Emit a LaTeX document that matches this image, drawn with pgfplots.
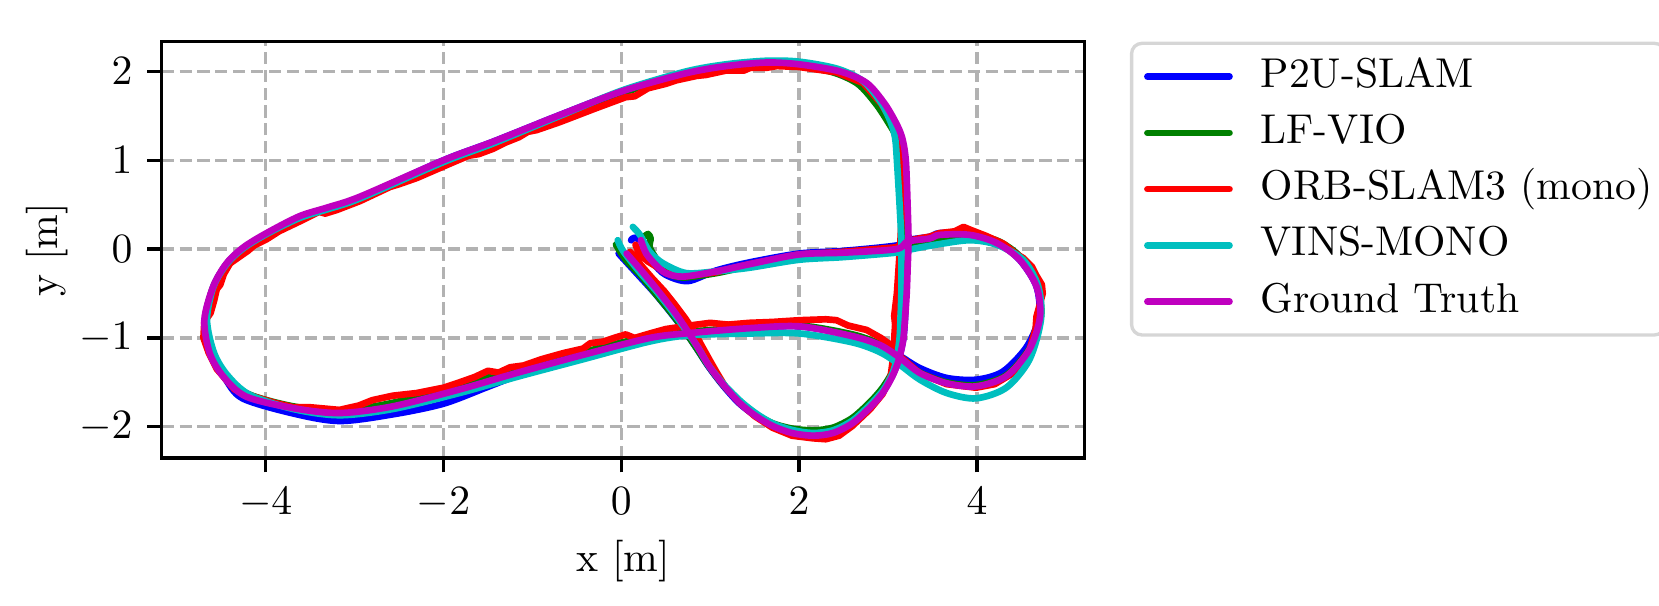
\documentclass[border=0pt]{standalone}
\usepackage{pgfplots}
\pgfplotsset{compat=1.18}
\definecolor{mplb}{rgb}{0,0,1}
\definecolor{mplg}{rgb}{0,0.5,0}
\definecolor{mplr}{rgb}{1,0,0}
\definecolor{mplc}{rgb}{0,0.75,0.75}
\definecolor{mplm}{rgb}{0.75,0,0.75}
\definecolor{legframe}{rgb}{0.84,0.84,0.84}
\begin{document}
\begin{tikzpicture}
\path[use as bounding box] (-38.8pt,-35.5pt) rectangle (359.4pt,109.9pt);
\begin{axis}[
at={(0,0)}, anchor=south west,
scale only axis,
width=221.5pt, height=99.9pt,
xmin=-5.17, xmax=5.21,
ymin=-2.35, ymax=2.335,
xtick={-4,-2,0,2,4},
ytick={-2,-1,0,1,2},
xtick pos=bottom, ytick pos=left,
tick align=outside,
major tick length=3.5pt,
every tick/.style={black, line width=0.8pt},
axis line style={line width=0.8pt},
grid=major,
major grid style={line width=0.8pt, color=gray!60, dash pattern=on 2.9pt off 1.4pt},
xlabel={x [m]},
ylabel={y [m]},
xlabel style={at={(axis description cs:0.5,-0.247)}, anchor=center},
ylabel style={at={(axis description cs:-0.124,0.5)}, anchor=center},
legend cell align=left,
legend image code/.code={\draw[#1] (0pt,0pt) -- (19.7pt,0pt);},
legend style={at={(1,1)}, anchor=north west, xshift=10.9pt,
  draw=legframe, line width=0.8pt, rounded corners=2.5pt,
  inner xsep=3pt, inner ysep=3.5pt, row sep=4.5pt, column sep=6.7pt,
  nodes={inner sep=0pt, text height=7pt, text depth=2pt}},
every axis plot/.append style={line width=1.6pt, line join=round, line cap=round},
]
% P2U-SLAM
\addplot[mplb, smooth, tension=0.5] coordinates {
(-0.03,-0.05) (0.18,-0.28) (0.38,-0.50) (0.56,-0.72) (0.72,-0.93) (0.85,-1.12)
(0.98,-1.32) (1.14,-1.53) (1.32,-1.73) (1.50,-1.87) (1.70,-1.99) (1.92,-2.07)
(2.16,-2.09) (2.38,-2.06) (2.60,-1.95) (2.80,-1.77) (2.94,-1.61) (3.05,-1.42)
(3.12,-1.24) (3.17,-1.02) (3.19,-0.80) (3.20,-0.50) (3.21,-0.23) (3.22,0.10)
(3.21,0.50) (3.19,1.00) (3.14,1.25) (3.06,1.43) (2.92,1.65) (2.72,1.87)
(2.43,2.00) (2.00,2.07) (1.63,2.09) (1.18,2.06) (0.73,1.98) (0.02,1.78)
(-0.69,1.51) (-1.44,1.21) (-2.00,1.00) (-2.94,0.58) (-3.30,0.46) (-3.62,0.36)
(-3.99,0.17) (-4.25,0.01) (-4.44,-0.17) (-4.59,-0.43) (-4.68,-0.80) (-4.62,-1.17)
(-4.46,-1.45) (-4.26,-1.68) (-3.69,-1.85) (-3.17,-1.935) (-2.57,-1.86) (-2.00,-1.74)
(-1.50,-1.55) (-1.18,-1.43) (-0.43,-1.20) (0.32,-1.00) (0.77,-0.945) (1.44,-0.89)
(2.01,-0.87) (2.60,-0.97) (2.91,-1.07) (3.13,-1.20) (3.36,-1.34) (3.66,-1.45)
(3.99,-1.47) (4.29,-1.38) (4.56,-1.10) (4.70,-0.76) (4.67,-0.42) (4.48,-0.12)
(4.22,0.08) (3.92,0.18) (3.58,0.18) (3.47,0.14) (3.22,0.10) (3.09,0.04)
(2.50,-0.02) (2.00,-0.05) (1.44,-0.15) (1.07,-0.24) (0.75,-0.36) (0.50,-0.29)
(0.36,-0.16) (0.26,-0.02) (0.25,0.07) (0.15,0.13) (0.11,0.10)
};
\addlegendentry{P2U-SLAM}
% LF-VIO
\addplot[mplg, smooth, tension=0.5] coordinates {
(-0.06,0.05) (0.05,-0.12) (0.22,-0.30) (0.40,-0.52) (0.58,-0.74) (0.72,-0.93)
(0.85,-1.12) (0.97,-1.30) (1.13,-1.51) (1.32,-1.71) (1.50,-1.85) (1.70,-1.96)
(1.92,-2.02) (2.16,-2.04) (2.38,-2.01) (2.60,-1.90) (2.80,-1.72) (2.94,-1.56)
(3.05,-1.38) (3.11,-1.20) (3.15,-1.00) (3.17,-0.80) (3.18,-0.50) (3.19,-0.23)
(3.19,0.10) (3.18,0.50) (3.16,1.00) (3.10,1.25) (3.00,1.43) (2.86,1.64)
(2.66,1.86) (2.38,1.99) (2.00,2.06) (1.63,2.08) (1.18,2.05) (0.73,1.97)
(0.02,1.76) (-0.69,1.49) (-1.44,1.19) (-2.00,0.98) (-2.94,0.57) (-3.30,0.45)
(-3.62,0.35) (-3.99,0.16) (-4.25,0.00) (-4.44,-0.17) (-4.59,-0.43) (-4.68,-0.80)
(-4.61,-1.17) (-4.46,-1.42) (-4.20,-1.63) (-3.69,-1.77) (-3.17,-1.82) (-2.57,-1.73)
(-1.82,-1.53) (-1.18,-1.35) (-0.43,-1.16) (0.32,-0.98) (0.77,-0.93) (1.44,-0.88)
(2.01,-0.86) (2.60,-0.96) (2.91,-1.07) (3.13,-1.21) (3.36,-1.39) (3.66,-1.50)
(3.99,-1.53) (4.33,-1.42) (4.59,-1.12) (4.72,-0.76) (4.68,-0.42) (4.50,-0.10)
(4.24,0.09) (3.92,0.16) (3.58,0.12) (3.47,0.08) (3.22,0.05) (3.09,-0.02)
(2.50,-0.07) (2.00,-0.09) (1.44,-0.19) (1.07,-0.27) (0.69,-0.32) (0.50,-0.26)
(0.40,-0.12) (0.32,0.02) (0.33,0.12) (0.30,0.17) (0.26,0.14)
};
\addlegendentry{LF-VIO}
% ORB-SLAM3 (mono)
\addplot[mplr] coordinates {
(0.10,-0.03) (0.22,-0.18) (0.35,-0.33) (0.48,-0.47) (0.60,-0.62) (0.72,-0.78)
(0.82,-0.93) (0.90,-1.08) (1.00,-1.26) (1.08,-1.40) (1.17,-1.55) (1.33,-1.73)
(1.50,-1.88) (1.70,-2.01) (1.92,-2.10) (2.16,-2.13) (2.30,-2.14) (2.45,-2.10)
(2.60,-1.99) (2.80,-1.80) (2.94,-1.63) (3.03,-1.43) (3.06,-1.20) (3.07,-1.00)
(3.08,-0.85) (3.07,-0.75) (3.10,-0.50) (3.12,-0.20) (3.14,0.10) (3.16,0.50)
(3.17,1.00) (3.13,1.25) (3.05,1.43) (2.92,1.64) (2.72,1.87) (2.42,1.99)
(2.00,2.05) (1.75,2.06) (1.63,2.04) (1.45,2.04) (1.38,2.01) (1.18,2.01)
(0.95,1.96) (0.85,1.95) (0.62,1.90) (0.50,1.86) (0.30,1.81) (0.15,1.72)
(0.05,1.71) (-0.30,1.58) (-0.69,1.43) (-0.95,1.34) (-1.05,1.32) (-1.15,1.26)
(-1.30,1.20) (-1.44,1.13) (-1.60,1.07) (-1.72,1.05) (-2.00,0.93) (-2.30,0.80)
(-2.50,0.73) (-2.60,0.70) (-2.94,0.54) (-3.20,0.44) (-3.33,0.40) (-3.40,0.42)
(-3.62,0.31) (-3.85,0.20) (-3.99,0.11) (-4.13,0.04) (-4.20,-0.02) (-4.30,-0.09)
(-4.40,-0.16) (-4.47,-0.28) (-4.51,-0.40) (-4.55,-0.45) (-4.58,-0.58) (-4.62,-0.72)
(-4.69,-0.82) (-4.70,-1.00) (-4.64,-1.17) (-4.55,-1.35) (-4.35,-1.58) (-4.20,-1.64)
(-3.90,-1.73) (-3.69,-1.78) (-3.50,-1.78) (-3.17,-1.81) (-2.95,-1.76) (-2.80,-1.70)
(-2.57,-1.65) (-2.30,-1.62) (-2.00,-1.56) (-1.82,-1.50) (-1.65,-1.44) (-1.50,-1.37)
(-1.38,-1.39) (-1.25,-1.33) (-1.10,-1.31) (-0.90,-1.24) (-0.65,-1.17) (-0.43,-1.12)
(-0.35,-1.06) (-0.20,-1.04) (-0.05,-0.99) (0.05,-0.96) (0.15,-1.00) (0.32,-0.95)
(0.50,-0.90) (0.77,-0.86) (1.00,-0.83) (1.20,-0.85) (1.44,-0.83) (1.70,-0.82)
(2.01,-0.80) (2.30,-0.79) (2.42,-0.80) (2.55,-0.86) (2.76,-0.91) (2.92,-1.00)
(3.06,-1.10) (3.15,-1.22) (3.36,-1.40) (3.66,-1.52) (3.99,-1.56) (4.20,-1.52)
(4.40,-1.40) (4.59,-1.14) (4.66,-0.90) (4.67,-0.76) (4.74,-0.50) (4.73,-0.40)
(4.67,-0.30) (4.62,-0.20) (4.52,-0.10) (4.45,-0.06) (4.30,0.06) (4.10,0.15)
(3.92,0.22) (3.85,0.25) (3.75,0.20) (3.58,0.18) (3.47,0.14) (3.35,0.12)
(3.22,0.09) (3.09,0.02) (2.50,-0.03) (2.00,-0.06) (1.44,-0.17) (1.07,-0.26)
(0.69,-0.31) (0.50,-0.27) (0.40,-0.20) (0.30,-0.14) (0.20,-0.05) (0.16,0.05)
};
\addlegendentry{ORB-SLAM3 (mono)}
% VINS-MONO
\addplot[mplc, smooth, tension=0.5] coordinates {
(-0.04,0.10) (0.02,-0.02) (0.20,-0.25) (0.40,-0.48) (0.58,-0.71) (0.74,-0.93)
(0.87,-1.12) (0.99,-1.32) (1.16,-1.53) (1.35,-1.72) (1.53,-1.86) (1.72,-1.97)
(1.94,-2.04) (2.16,-2.07) (2.38,-2.04) (2.60,-1.93) (2.80,-1.75) (2.95,-1.58)
(3.05,-1.40) (3.10,-1.22) (3.13,-1.00) (3.14,-0.80) (3.15,-0.50) (3.15,-0.23)
(3.15,0.10) (3.13,0.50) (3.10,1.00) (3.08,1.25) (3.03,1.43) (2.92,1.65)
(2.72,1.89) (2.43,2.03) (2.00,2.11) (1.63,2.12) (1.18,2.08) (0.73,2.00)
(0.02,1.79) (-0.69,1.50) (-1.44,1.19) (-2.00,0.98) (-2.94,0.57) (-3.30,0.45)
(-3.62,0.35) (-3.99,0.17) (-4.25,0.01) (-4.44,-0.17) (-4.59,-0.43) (-4.66,-0.80)
(-4.58,-1.17) (-4.43,-1.42) (-4.18,-1.64) (-3.69,-1.80) (-3.17,-1.87) (-2.57,-1.80)
(-1.82,-1.62) (-1.18,-1.44) (-0.43,-1.24) (0.32,-1.04) (0.77,-0.97) (1.44,-0.95)
(2.01,-0.95) (2.60,-1.05) (2.91,-1.16) (3.13,-1.30) (3.36,-1.47) (3.66,-1.62)
(3.99,-1.68) (4.33,-1.56) (4.59,-1.245) (4.72,-0.795) (4.69,-0.42) (4.52,-0.12)
(4.22,0.05) (3.92,0.10) (3.54,0.05) (3.22,-0.01) (3.09,-0.04) (2.50,-0.09)
(2.00,-0.12) (1.44,-0.21) (1.07,-0.25) (0.73,-0.27) (0.47,-0.16) (0.32,-0.03)
(0.21,0.16) (0.13,0.25)
};
\addlegendentry{VINS-MONO}
% Ground Truth
\addplot[mplm, smooth, tension=0.5] coordinates {
(0.06,-0.05) (0.25,-0.27) (0.43,-0.49) (0.60,-0.71) (0.75,-0.93) (0.87,-1.12)
(0.99,-1.32) (1.15,-1.53) (1.33,-1.73) (1.50,-1.87) (1.70,-1.99) (1.92,-2.07)
(2.16,-2.10) (2.38,-2.07) (2.60,-1.96) (2.80,-1.78) (2.94,-1.62) (3.05,-1.43)
(3.12,-1.25) (3.17,-1.03) (3.19,-0.80) (3.21,-0.50) (3.22,-0.23) (3.23,0.10)
(3.22,0.50) (3.20,1.00) (3.16,1.25) (3.09,1.42) (2.96,1.64) (2.76,1.87)
(2.46,2.00) (2.00,2.08) (1.63,2.10) (1.18,2.06) (0.73,1.98) (0.02,1.78)
(-0.69,1.51) (-1.44,1.21) (-2.00,1.00) (-2.94,0.59) (-3.30,0.47) (-3.62,0.37)
(-3.99,0.18) (-4.25,0.02) (-4.44,-0.16) (-4.59,-0.42) (-4.69,-0.80) (-4.63,-1.17)
(-4.48,-1.43) (-4.22,-1.66) (-3.69,-1.79) (-3.17,-1.845) (-2.57,-1.77) (-1.82,-1.58)
(-1.18,-1.395) (-0.43,-1.19) (0.32,-1.00) (0.77,-0.945) (1.44,-0.89) (2.01,-0.87)
(2.60,-0.98) (2.91,-1.08) (3.13,-1.22) (3.36,-1.395) (3.66,-1.51) (3.99,-1.545)
(4.33,-1.43) (4.59,-1.13) (4.71,-0.76) (4.67,-0.42) (4.48,-0.12) (4.22,0.07)
(3.92,0.16) (3.58,0.16) (3.47,0.12) (3.22,0.085) (3.09,0.00) (2.50,-0.04)
(2.00,-0.06) (1.44,-0.17) (1.07,-0.25) (0.69,-0.31) (0.50,-0.27) (0.39,-0.18)
(0.28,-0.05) (0.22,0.10)
};
\addlegendentry{Ground Truth}
\end{axis}
\end{tikzpicture}
\end{document}
